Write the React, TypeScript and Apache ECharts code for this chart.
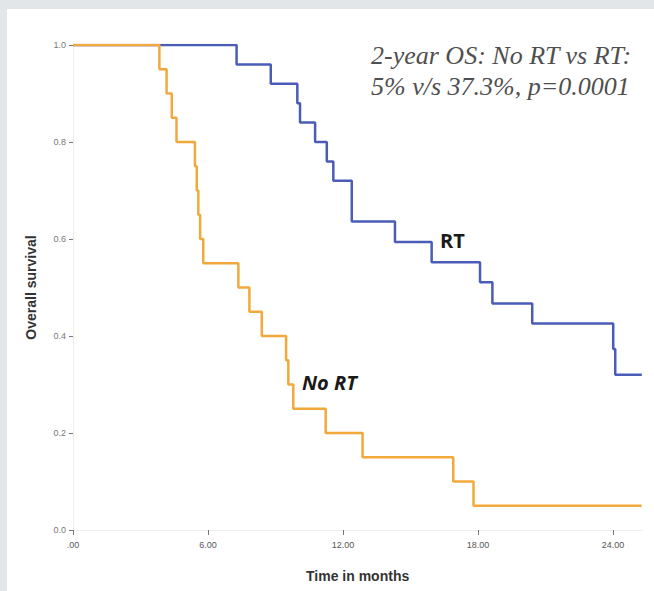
import React, { useEffect, useRef } from "react";
import * as echarts from "echarts";

// Kaplan-Meier steps: [time in months, survival after the event]
const noRtTimes = [0, 3.84, 4.16, 4.39, 4.6, 5.42, 5.5, 5.57, 5.65, 5.79, 7.35, 7.84, 8.39, 9.47, 9.57, 9.79, 11.23, 12.87, 16.9, 17.8, 25.27];
const noRtSurv = [1.0, 0.95, 0.9, 0.85, 0.8, 0.75, 0.7, 0.65, 0.6, 0.55, 0.5, 0.45, 0.4, 0.35, 0.3, 0.25, 0.2, 0.15, 0.1, 0.05, 0.05];

const rtTimes = [0, 7.27, 8.79, 9.97, 10.09, 10.76, 11.28, 11.57, 12.39, 14.31, 15.94, 18.09, 18.64, 20.41, 24.01, 24.1, 25.28];
const rtSurv = [1.0, 0.96, 0.92, 0.88, 0.84, 0.8, 0.76, 0.72, 0.636, 0.594, 0.552, 0.511, 0.467, 0.426, 0.373, 0.32, 0.32];

const xTicks = [0, 6, 12, 18, 24];
const xTickLabels = [".00", "6.00", "12.00", "18.00", "24.00"];
const yTicks = [0, 0.2, 0.4, 0.6, 0.8, 1.0];

const annotationLines = ["2-year OS: No RT vs RT:", "5% v/s 37.3%, p=0.0001"];

export default function App() {
  const ref = useRef<HTMLDivElement>(null);
  useEffect(() => {
    document.body.style.margin = "0";
    if (!ref.current) return;
    const chart = echarts.init(ref.current, undefined, { renderer: "svg" });
    const noRt = noRtTimes.map((t, i) => [t, noRtSurv[i]]);
    const rt = rtTimes.map((t, i) => [t, rtSurv[i]]);
    chart.setOption({
      animation: false,
      backgroundColor: "#ffffff",
      grid: { left: 73, top: 45, width: 569.25, height: 485, containLabel: false },
      xAxis: {
        type: "value",
        min: 0,
        max: 25.3,
        interval: 6,
        name: "Time in months",
        nameLocation: "middle",
        nameGap: 39,
        nameTextStyle: { fontFamily: "Liberation Sans", fontWeight: "bold", fontSize: 14, color: "#333" },
        axisLine: { show: true, lineStyle: { color: "#eeeeee", width: 1 } },
        axisTick: { show: true, length: 5, lineStyle: { color: "#777" }, customValues: xTicks },
        axisLabel: {
          customValues: xTicks,
          formatter: (v: number) => xTickLabels[xTicks.indexOf(v)] ?? "",
          fontFamily: "Liberation Sans Narrow, Liberation Sans",
          fontSize: 9,
          color: "#555",
          margin: 10,
        },
        splitLine: { show: false },
      },
      yAxis: {
        type: "value",
        min: 0,
        max: 1,
        interval: 0.2,
        name: "Overall survival",
        nameLocation: "middle",
        nameGap: 35,
        nameRotate: 90,
        nameTextStyle: { fontFamily: "Liberation Sans", fontWeight: "bold", fontSize: 14, color: "#333" },
        axisLine: { show: true, lineStyle: { color: "#eeeeee", width: 1 } },
        axisTick: { show: true, length: 4, lineStyle: { color: "#777" }, customValues: yTicks },
        axisLabel: {
          formatter: (v: number) => v.toFixed(1),
          fontFamily: "Liberation Sans Narrow, Liberation Sans",
          fontSize: 9,
          color: "#777",
          margin: 7,
        },
        splitLine: { show: false },
      },
      series: [
        {
          name: "No RT",
          type: "line",
          step: "end",
          data: noRt,
          showSymbol: false,
          lineStyle: { color: "#f2a93b", width: 2.5 },
          itemStyle: { color: "#f2a93b" },
          z: 3,
        },
        {
          name: "RT",
          type: "line",
          step: "end",
          data: rt,
          showSymbol: false,
          lineStyle: { color: "#4a5cb8", width: 2.5 },
          itemStyle: { color: "#4a5cb8" },
          z: 2,
        },
      ],
      graphic: [
        { type: "rect", left: 0, top: 0, shape: { width: 654, height: 9 }, style: { fill: "#e2e6e8" }, z: 100 },
        { type: "rect", left: 0, top: 0, shape: { width: 7, height: 591 }, style: { fill: "#e2e6e8" }, z: 100 },
        {
          type: "text",
          x: 371,
          y: 40,
          style: {
            text: annotationLines.join("\n"),
            fontFamily: "Liberation Serif",
            fontStyle: "italic",
            fontSize: 26,
            lineHeight: 31,
            fill: "#4f4f4f",
          },
          z: 50,
        },
        {
          type: "text",
          x: 440,
          y: 230,
          style: { text: "RT", fontFamily: "Open Sans", fontWeight: "bold", fontSize: 20, fill: "#1a1a1a" },
          z: 50,
        },
        {
          type: "text",
          x: 302,
          y: 372,
          style: { text: "No RT", fontFamily: "Open Sans", fontWeight: "bold", fontStyle: "italic", fontSize: 20, fill: "#1a1a1a" },
          z: 50,
        },
      ],
    });
    return () => chart.dispose();
  }, []);
  return <div ref={ref} style={{ width: 654, height: 591 }} />;
}
